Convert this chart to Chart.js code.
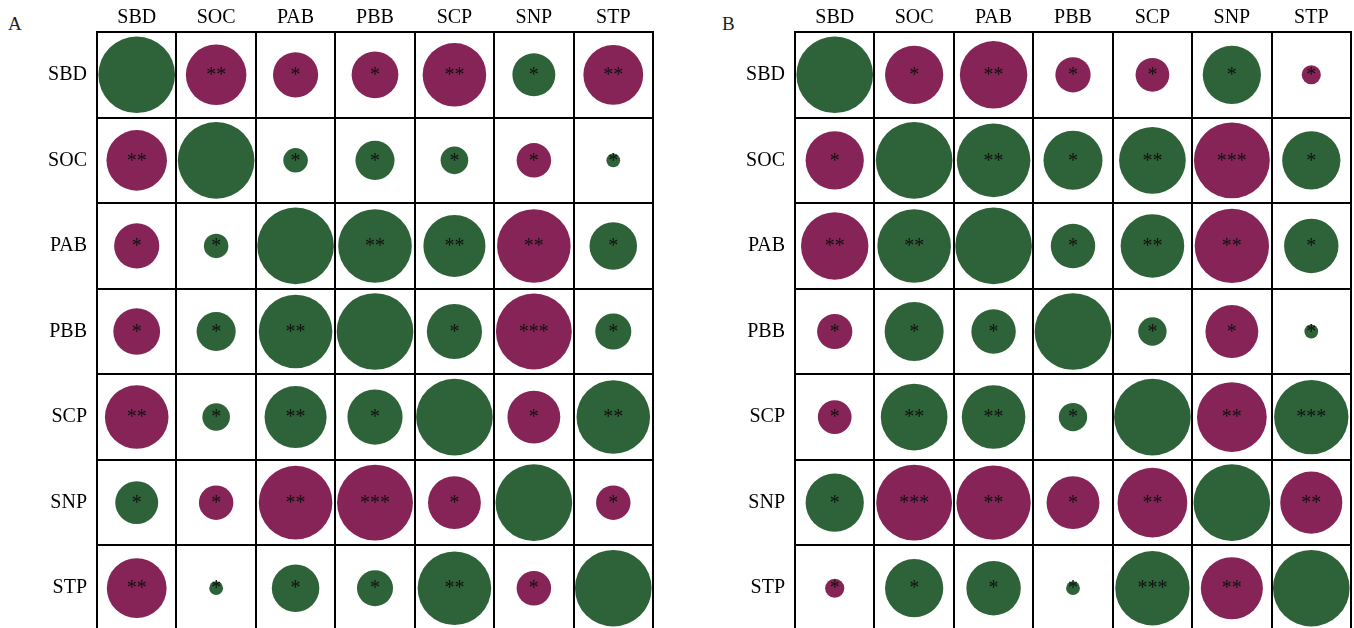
<!DOCTYPE html>
<html><head><meta charset="utf-8">
<script src="https://cdn.jsdelivr.net/npm/chart.js@4"></script>
<style>
html,body{margin:0;padding:0;background:#fff;overflow:hidden;width:1354px;height:628px}
canvas{position:absolute;top:0}
.tag{position:absolute;font-family:"Liberation Serif";font-size:19px;line-height:1;color:#222}
</style></head><body>
<div class="tag" style="left:8px;top:14px">A</div>
<div class="tag" style="left:722px;top:14px">B</div>
<canvas id="cA" width="660" height="634" style="left:0;width:660px;height:634px"></canvas>
<canvas id="cB" width="656" height="634" style="left:698px;width:656px;height:634px"></canvas>
<script>
const vars = ['SBD','SOC','PAB','PBB','SCP','SNP','STP'];

const corrA = [
  [ 1.00,-0.79,-0.59,-0.61,-0.83, 0.56,-0.78],
  [-0.79, 1.00, 0.32, 0.51, 0.36,-0.45, 0.18],
  [-0.59, 0.32, 1.00, 0.96, 0.81,-0.96, 0.62],
  [-0.61, 0.51, 0.96, 1.00, 0.72,-0.99, 0.47],
  [-0.83, 0.36, 0.81, 0.72, 1.00,-0.69, 0.96],
  [ 0.56,-0.45,-0.96,-0.99,-0.69, 1.00,-0.45],
  [-0.78, 0.18, 0.62, 0.47, 0.96,-0.45, 1.00]
];
const sigA = [
  ['',  '**','*', '*', '**','*', '**'],
  ['**','',  '*', '*', '*', '*', '*' ],
  ['*', '*', '',  '**','**','**','*' ],
  ['*', '*', '**','',  '*', '***','*'],
  ['**','*', '**','*', '',  '*', '**'],
  ['*', '*', '**','***','*','',  '*' ],
  ['**','*', '*', '*', '**','*', ''  ]
];
const corrB = [
  [ 1.00,-0.76,-0.88,-0.46,-0.44, 0.76,-0.25],
  [-0.76, 1.00, 0.96, 0.77, 0.87,-0.99, 0.76],
  [-0.88, 0.96, 1.00, 0.58, 0.83,-0.97, 0.71],
  [-0.46, 0.77, 0.58, 1.00, 0.37,-0.69, 0.18],
  [-0.44, 0.87, 0.83, 0.37, 1.00,-0.91, 0.97],
  [ 0.76,-0.99,-0.97,-0.69,-0.91, 1.00,-0.81],
  [-0.25, 0.76, 0.71, 0.18, 0.97,-0.81, 1.00]
];
const sigB = [
  ['',  '*', '**','*', '*', '*', '*' ],
  ['*', '',  '**','*', '**','***','*'],
  ['**','**','',  '*', '**','**','*' ],
  ['*', '*', '*', '',  '*', '*', '*' ],
  ['*', '**','**','*', '',  '**','***'],
  ['*', '***','**','*','**','',  '**'],
  ['*', '*', '*', '*', '***','**',''  ]
];

const POS = '#2E6238', NEG = '#862458';
const FONT = 'Liberation Serif';

const starPlugin = {
  id: 'stars',
  afterDatasetsDraw(chart) {
    const ctx = chart.ctx;
    const meta = chart.getDatasetMeta(0);
    ctx.save();
    ctx.fillStyle = '#111';
    ctx.font = '20px "' + FONT + '"';
    ctx.textAlign = 'center';
    ctx.textBaseline = 'middle';
    meta.data.forEach((el, i) => {
      const s = chart.data.datasets[0].data[i].s;
      if (s) ctx.fillText(s, el.x, el.y + 1);
    });
    ctx.restore();
  }
};

function makeChart(id, corr, sig, padRight) {
  const points = [];
  vars.forEach((rv, i) => vars.forEach((cv, j) => {
    points.push({x: cv, y: rv, v: corr[i][j], s: sig[i][j]});
  }));
  const axisCommon = {
    type: 'category', labels: vars, offset: true,
    grid: {offset: true, color: '#000', lineWidth: 2, drawTicks: false},
    border: {color: '#000', width: 2}
  };
  return new Chart(document.getElementById(id), {
    type: 'bubble',
    data: {datasets: [{
      data: points,
      backgroundColor: c => (c.raw && c.raw.v >= 0) ? POS : NEG,
      borderWidth: 0,
      radius: c => {
        const a = c.chart.chartArea;
        const cw = a ? (a.right - a.left) / vars.length : 79;
        return Math.abs(c.raw.v) * cw * 0.485;
      }
    }]},
    options: {
      responsive: false, animation: false,
      events: [],
      layout: {autoPadding: false, padding: {left: 0, right: padRight, top: 0, bottom: 3}},
      plugins: {legend: {display: false}, tooltip: {enabled: false}},
      scales: {
        x: Object.assign({}, axisCommon, {
          position: 'top',
          ticks: {color: '#000', font: {family: FONT, size: 20}, padding: 2},
          afterFit(s) { s.height = 32; s.paddingLeft = 0; s.paddingRight = 0; }
        }),
        y: Object.assign({}, axisCommon, {
          ticks: {color: '#000', font: {family: FONT, size: 20}, padding: 10},
          afterFit(s) { s.width = 97; s.paddingTop = 0; s.paddingBottom = 0; }
        })
      }
    },
    plugins: [starPlugin]
  });
}

makeChart('cA', corrA, sigA, 7);
makeChart('cB', corrB, sigB, 3);
</script>
</body></html>
